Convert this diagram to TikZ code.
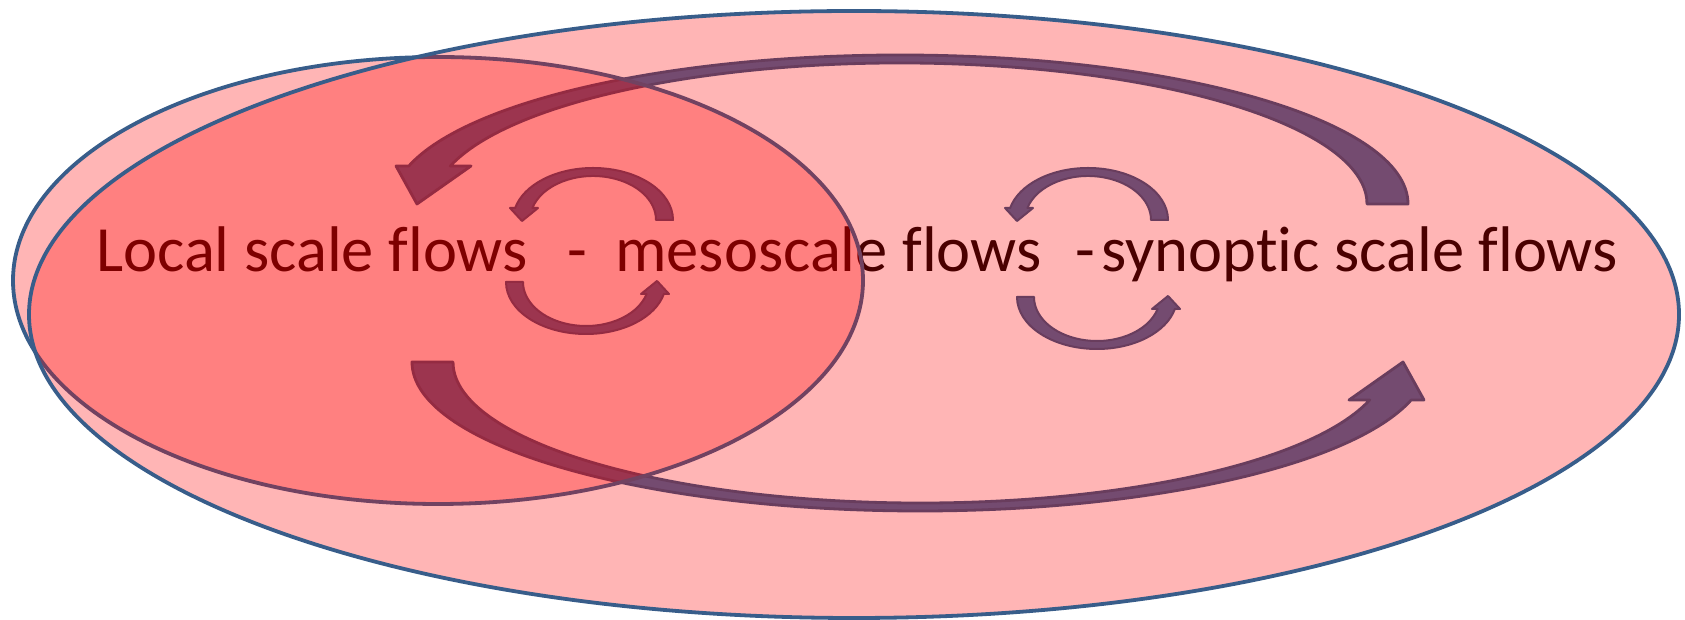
\documentclass[tikz,border=0pt]{standalone}
\usepackage{fontspec}
\setmainfont{Carlito}[RawFeature={-liga;-clig;-calt;-dlig}]
\definecolor{rim}{HTML}{385D8A}
\definecolor{arrowfill}{HTML}{3C6A9F}
\definecolor{arrowline}{HTML}{2C5684}
\begin{document}
\begin{tikzpicture}[x=1pt,y=1pt,
  flowarrow/.style={fill=arrowfill, draw=arrowline, line width=2.8pt, line join=round},
  eddyarrow/.style={fill=arrowfill, draw=arrowline, line width=2pt, line join=round},
  zone/.style={fill=red, fill opacity=0.29, draw=rim, line width=3.8pt},
  flowtext/.style={inner sep=0pt, anchor=base west, font=\fontsize{64.5}{77}\selectfont},
  % large curved arrow, local origin at the centre of its arcs
  flow/.pic={
    \path[flowarrow] (467,0) -- (508,0)
      arc[start angle=0, end angle=165.2, x radius=508pt, y radius=149pt]
      -- (-504,38) -- (-483,0) -- (-429,38)
      -- (164.4:467pt and 141pt)
      arc[start angle=164.4, end angle=0, x radius=467pt, y radius=141pt]
      -- cycle;
  },
  % small circulating arrow, local origin at the centre of its arcs
  eddy/.pic={
    \path[eddyarrow] (63,0) -- (80,0)
      arc[start angle=0, end angle=166.66, x radius=80pt, y radius=52pt]
      -- (-83,12) -- (-71,-1) -- (-55,12)
      -- (164.17:63pt and 44pt)
      arc[start angle=164.17, end angle=0, x radius=63pt, y radius=44pt]
      -- cycle;
  }]
\useasboundingbox (0,0) rectangle (1685,620);
\fill[white] (0,0) rectangle (1685,620);

% labels of the three scales
\node[flowtext] (local) at (96,348) {Local scale flows};
\node[flowtext, anchor=base] (dashA) at (577,348) {-};
\node[flowtext] (meso) at (615,348) {mesoscale flows};
\node[flowtext, anchor=base] (dashB) at (1085,348) {-};
\node[flowtext] (synoptic) at (1101,348) {synop\kern0pt tic scale flows};

% large-scale exchange between local and synoptic flows
\pic at (900,416) {flow};
\pic[rotate=180] at (920,258) {flow};

% circulations between neighbouring scales
\pic at (593,400) {eddy};
\pic[rotate=180] at (586,338) {eddy};
\pic at (1088,400) {eddy};
\pic[rotate=180] at (1097,323) {eddy};

% translucent domains: local scale, then the whole range
\draw[zone] (438,339.5) ellipse[x radius=425pt, y radius=223.5pt];
\draw[zone] (854,305.5) ellipse[x radius=825pt, y radius=303.5pt];
\end{tikzpicture}
\end{document}
